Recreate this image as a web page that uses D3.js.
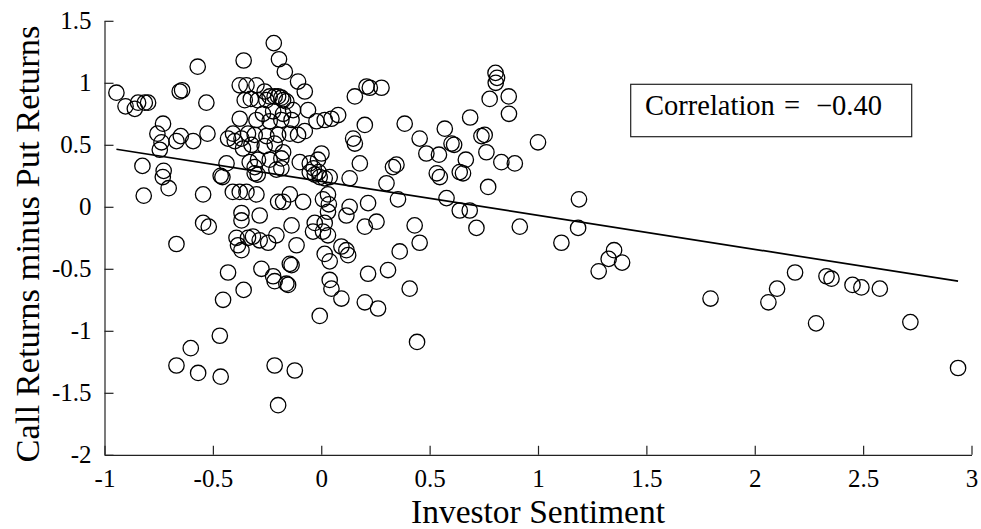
<!DOCTYPE html>
<html>
<head>
<meta charset="utf-8">
<script src="https://cdn.jsdelivr.net/npm/d3@7"></script>
<style>
  html, body { margin: 0; padding: 0; background: #fff; }
  svg text, svg tspan { font-family: "Liberation Serif", "Times New Roman", serif; fill: #000; }
</style>
</head>
<body>
<svg id="chart" width="981" height="529" font-family="Liberation Serif, serif"></svg>
<script>
// Investor sentiment (x) and call-minus-put return spread (y), one entry per observation
const sentiment = [
  -0.945,-0.903,-0.860,-0.845,-0.814,-0.799,-0.570,-0.653,-0.642,-0.530,-0.730,-0.756,-0.648,-0.668,-0.591,-0.525,-0.737,-0.745,
  -0.825,-0.727,-0.731,-0.704,-0.819,-0.545,-0.545,-0.519,-0.668,-0.464,-0.456,-0.430,-0.453,-0.468,-0.602,-0.668,-0.568,-0.464,
  -0.358,-0.376,-0.345,-0.353,-0.325,-0.376,-0.407,-0.430,-0.399,-0.368,-0.338,-0.361,-0.322,-0.437,-0.330,-0.307,-0.408,-0.376,
  -0.345,-0.368,-0.368,-0.391,-0.384,-0.368,-0.338,-0.358,
  -0.219,-0.195,-0.168,-0.107,-0.076,-0.061,0.078,0.047,0.016,-0.022,-0.299,-0.261,-0.238,-0.215,-0.199,-0.184,-0.176,-0.161,
  -0.292,-0.253,-0.269,-0.222,-0.176,-0.130,-0.299,-0.238,-0.184,-0.137,-0.307,-0.253,-0.199,-0.145,-0.107,-0.076,-0.261,-0.215,
  -0.176,-0.292,-0.238,-0.184,-0.099,-0.053,-0.015,0.001,-0.035,-0.012,
  0.155,0.209,0.224,0.278,0.385,0.201,0.147,0.155,0.347,0.331,0.178,
  0.804,0.811,0.805,0.777,0.865,0.866,0.687,0.570,0.454,0.739,0.754,0.601,0.613,1.000,0.485,0.543,0.762,0.667,0.831,0.893,
  0.533,0.547,0.639,0.654,0.770,0.578,0.639,0.685,0.716,0.916,0.431,0.454,0.408,
  -0.307,-0.293,-0.207,-0.184,-0.053,-0.030,-0.007,0.016,0.039,0.131,0.301,-0.299,-0.199,-0.176,-0.145,-0.084,0.008,0.031,
  0.031,0.035,0.116,0.131,0.216,0.354,-0.284,-0.137,-0.030,-0.038,0.016,0.008,0.201,0.255,-0.315,-0.284,-0.245,-0.207,
  -0.114,0.031,0.016,0.039,0.093,0.116,0.124,0.362,-0.145,-0.137,-0.276,-0.222,-0.215,-0.161,-0.153,0.039,0.047,0.216,
  0.308,0.093,0.201,0.262,-0.007,
  -0.215,-0.122,-0.199,0.442,
  1.189,1.185,1.108,1.351,1.326,1.388,1.280,1.796,2.103,2.063,2.186,2.331,2.354,2.451,2.492,2.577,2.283,2.718,2.938
];
const spread = [
  0.92,0.81,0.79,0.84,0.84,0.84,1.13,0.93,0.94,0.84,0.67,0.59,0.57,0.53,0.53,0.59,0.52,0.46,
  0.33,0.29,0.24,0.15,0.09,0.10,-0.13,-0.16,-0.30,0.25,0.24,-0.53,-0.75,-1.04,-1.14,-1.28,-1.34,-1.37,
  1.18,0.98,0.98,0.86,0.87,0.71,0.59,0.55,0.53,0.55,0.59,0.47,0.50,0.35,0.36,0.32,0.12,0.12,
  0.12,-0.05,-0.11,-0.25,-0.31,-0.35,-0.25,-0.67,
  1.32,1.19,1.09,1.01,0.93,0.78,0.74,0.71,0.70,0.69,0.98,0.93,0.89,0.89,0.89,0.88,0.86,0.85,
  0.86,0.86,0.75,0.77,0.75,0.78,0.70,0.69,0.70,0.70,0.58,0.57,0.58,0.59,0.58,0.61,0.49,0.51,
  0.44,0.38,0.38,0.39,0.36,0.35,0.38,0.43,0.31,0.28,
  0.89,0.97,0.96,0.96,0.67,0.66,0.55,0.51,0.34,0.32,0.35,
  1.08,1.04,1.00,0.87,0.89,0.75,0.72,0.63,0.55,0.57,0.58,0.51,0.50,0.52,0.43,0.42,0.44,0.38,0.36,0.35,
  0.27,0.24,0.28,0.27,0.16,0.07,-0.03,-0.03,-0.17,-0.16,-0.15,-0.29,-0.66,
  0.27,0.26,0.30,0.31,0.28,0.26,0.24,0.23,0.24,0.23,0.19,0.10,0.04,0.04,0.10,0.04,0.06,0.10,
  -0.04,0.02,-0.07,0.00,0.03,0.06,-0.07,-0.15,-0.13,-0.20,-0.13,-0.20,-0.16,-0.12,-0.24,-0.27,-0.29,-0.23,
  -0.31,-0.23,-0.38,-0.44,-0.32,-0.35,-0.39,-0.36,-0.46,-0.47,-0.50,-0.56,-0.60,-0.62,-0.63,-0.59,-0.66,-0.54,
  -0.51,-0.74,-0.77,-0.82,-0.88,
  -1.28,-1.32,-1.60,-1.09,
  0.06,-0.17,-0.29,-0.35,-0.42,-0.45,-0.52,-0.74,-0.66,-0.77,-0.53,-0.56,-0.58,-0.63,-0.65,-0.66,-0.94,-0.93,-1.30
];

// Axis ticks
const xTicks = [-1, -0.5, 0, 0.5, 1, 1.5, 2, 2.5, 3];
const yTicks = [-2, -1.5, -1, -0.5, 0, 0.5, 1, 1.5];

// Least-squares fit of spread on sentiment
const fitIntercept = 0.205;
const fitSlope = -0.274;
const correlationLabel = ["Correlation", "=", "\u22120.40"];

const serif = '"Liberation Serif", "Times New Roman", serif';
const svg = d3.select("#chart");

const x = d3.scaleLinear().domain([-1, 3]).range([104.5, 971.5]);
const y = d3.scaleLinear().domain([-2, 1.5]).range([454.8, 20.8]);

// Axes with inward ticks
const xAxis = d3.axisBottom(x).tickValues(xTicks).tickFormat(d => String(d))
  .tickSizeInner(-9).tickSizeOuter(0).tickPadding(14);
const yAxis = d3.axisLeft(y).tickValues(yTicks).tickFormat(d => String(d))
  .tickSizeInner(-9).tickSizeOuter(0).tickPadding(13);

const gx = svg.append("g").attr("transform", `translate(0,${y(-2)})`).call(xAxis);
const gy = svg.append("g").attr("transform", `translate(${x(-1)},0)`).call(yAxis);

[gx, gy].forEach(g => {
  g.attr("font-family", serif).attr("font-size", 25);
  g.select(".domain").attr("stroke", "#222").attr("stroke-width", 1.2);
  g.selectAll(".tick line").attr("stroke", "#222").attr("stroke-width", 1.2);
  g.selectAll(".tick text")
    .attr("font-family", serif)
    .style("font-family", serif)
    .style("font-size", "25px")
    .attr("fill", "#000");
});

// Scatter points
const pts = d3.range(sentiment.length).map(i => ({ s: sentiment[i], r: spread[i] }));
svg.append("g")
  .selectAll("circle")
  .data(pts)
  .join("circle")
  .attr("cx", d => x(d.s))
  .attr("cy", d => y(d.r))
  .attr("r", 7.7)
  .attr("fill", "none")
  .attr("stroke", "#000")
  .attr("stroke-width", 1.3);

// Fitted regression line over the data range
const [xMin, xMax] = d3.extent(sentiment);
svg.append("line")
  .attr("x1", x(xMin)).attr("y1", y(fitIntercept + fitSlope * xMin))
  .attr("x2", x(xMax)).attr("y2", y(fitIntercept + fitSlope * xMax))
  .attr("stroke", "#000")
  .attr("stroke-width", 1.7);

// Correlation annotation box
const box = svg.append("g");
box.append("rect")
  .attr("x", 630.7).attr("y", 84.3).attr("width", 281).attr("height", 52.4)
  .attr("fill", "#fff").attr("stroke", "#222").attr("stroke-width", 1.2);
const corrText = box.append("text").attr("y", 115)
  .attr("font-family", serif).style("font-family", serif).style("font-size", "28.5px");
corrText.append("tspan").attr("x", 645).text(correlationLabel[0]);
corrText.append("tspan").attr("x", 784).text(correlationLabel[1]);
corrText.append("tspan").attr("x", 816).text(correlationLabel[2]);

// Axis titles
svg.append("text")
  .attr("x", 538).attr("y", 523)
  .attr("text-anchor", "middle")
  .style("font-family", serif)
  .style("font-size", "33.5px")
  .text("Investor Sentiment");

svg.append("text")
  .attr("transform", `translate(39,244) rotate(-90)`)
  .attr("text-anchor", "middle")
  .style("font-family", serif)
  .style("font-size", "34.5px")
  .text("Call Returns minus Put Returns");
</script>
</body>
</html>
